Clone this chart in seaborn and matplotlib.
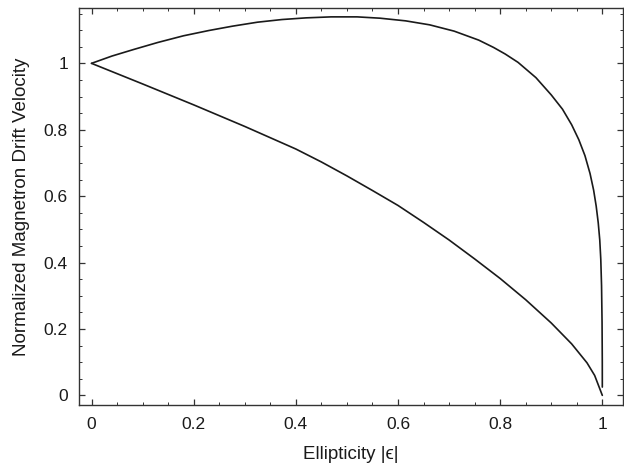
import numpy as np
import pandas as pd
import matplotlib
matplotlib.use("Agg")
import matplotlib.pyplot as plt
from matplotlib.ticker import MultipleLocator
import seaborn as sns

# Upper branch
eps_upper = [0.0, 0.04, 0.083, 0.13, 0.18, 0.23, 0.276, 0.325, 0.373, 0.42,
             0.469, 0.52, 0.565, 0.615, 0.662, 0.71, 0.758, 0.787, 0.81, 0.835,
             0.87, 0.9, 0.922, 0.94, 0.954, 0.966, 0.976, 0.983, 0.988, 0.992,
             0.995, 0.997, 0.9985, 0.9995, 0.99995, 1.0]
vel_upper = [1.0, 1.022, 1.042, 1.063, 1.083, 1.099, 1.112, 1.124, 1.132, 1.137,
             1.140, 1.140, 1.136, 1.128, 1.116, 1.097, 1.070, 1.048, 1.028, 1.003,
             0.957, 0.905, 0.862, 0.815, 0.770, 0.722, 0.668, 0.618, 0.570, 0.520,
             0.468, 0.41, 0.33, 0.22, 0.10, 0.025]

# Lower branch
eps_lower = [0.0, 0.1, 0.2, 0.3, 0.4, 0.45, 0.5, 0.55, 0.6, 0.65, 0.7, 0.75,
             0.8, 0.85, 0.9, 0.94, 0.97, 0.985, 1.0]
vel_lower = [1.0, 0.938, 0.875, 0.81, 0.742, 0.703, 0.661, 0.617, 0.572, 0.521,
             0.468, 0.411, 0.352, 0.288, 0.218, 0.155, 0.098, 0.06, 0.0]

x_ticks = [0, 0.2, 0.4, 0.6, 0.8, 1]
x_ticklabels = ["0", "0.2", "0.4", "0.6", "0.8", "1"]
y_ticks = [0, 0.2, 0.4, 0.6, 0.8, 1]
y_ticklabels = ["0", "0.2", "0.4", "0.6", "0.8", "1"]

df = pd.concat([
    pd.DataFrame({"eps": eps_upper, "v": vel_upper, "branch": "upper"}),
    pd.DataFrame({"eps": eps_lower, "v": vel_lower, "branch": "lower"}),
], ignore_index=True)

sns.set_style("ticks")
plt.rcParams["font.family"] = ["Liberation Sans", "DejaVu Sans"]

fig = plt.figure(figsize=(6.24, 4.73), dpi=100)
ax = fig.add_axes([0.1266, 0.1438, 0.8718, 0.8392])

sns.lineplot(data=df, x="eps", y="v", units="branch", estimator=None,
             sort=False, color="#1a1a1a", linewidth=1.2, ax=ax)

ax.set_xlim(-0.0245, 1.0405)
ax.set_ylim(-0.029, 1.1666)
ax.set_xticks(x_ticks)
ax.set_xticklabels(x_ticklabels)
ax.set_yticks(y_ticks)
ax.set_yticklabels(y_ticklabels)
ax.xaxis.set_minor_locator(MultipleLocator(0.05))
ax.yaxis.set_minor_locator(MultipleLocator(0.05))
ax.tick_params(which="both", direction="in", top=True, right=True,
               labeltop=False, labelright=False, color="#333333")
ax.tick_params(which="major", length=4, width=0.9, labelsize=12.5,
               labelcolor="#1a1a1a")
ax.tick_params(axis="x", which="major", pad=9)
ax.tick_params(axis="y", which="major", pad=8)
ax.tick_params(which="minor", length=2.5, width=0.7)
for s in ax.spines.values():
    s.set_color("#333333")
    s.set_linewidth(1.0)

ax.set_xlabel("Ellipticity |ϵ|", fontsize=13.5, color="#1a1a1a", labelpad=10)
ax.set_ylabel("Normalized Magnetron Drift Velocity", fontsize=13.5,
              color="#1a1a1a", labelpad=10)

fig.savefig("out.png", dpi=100)
